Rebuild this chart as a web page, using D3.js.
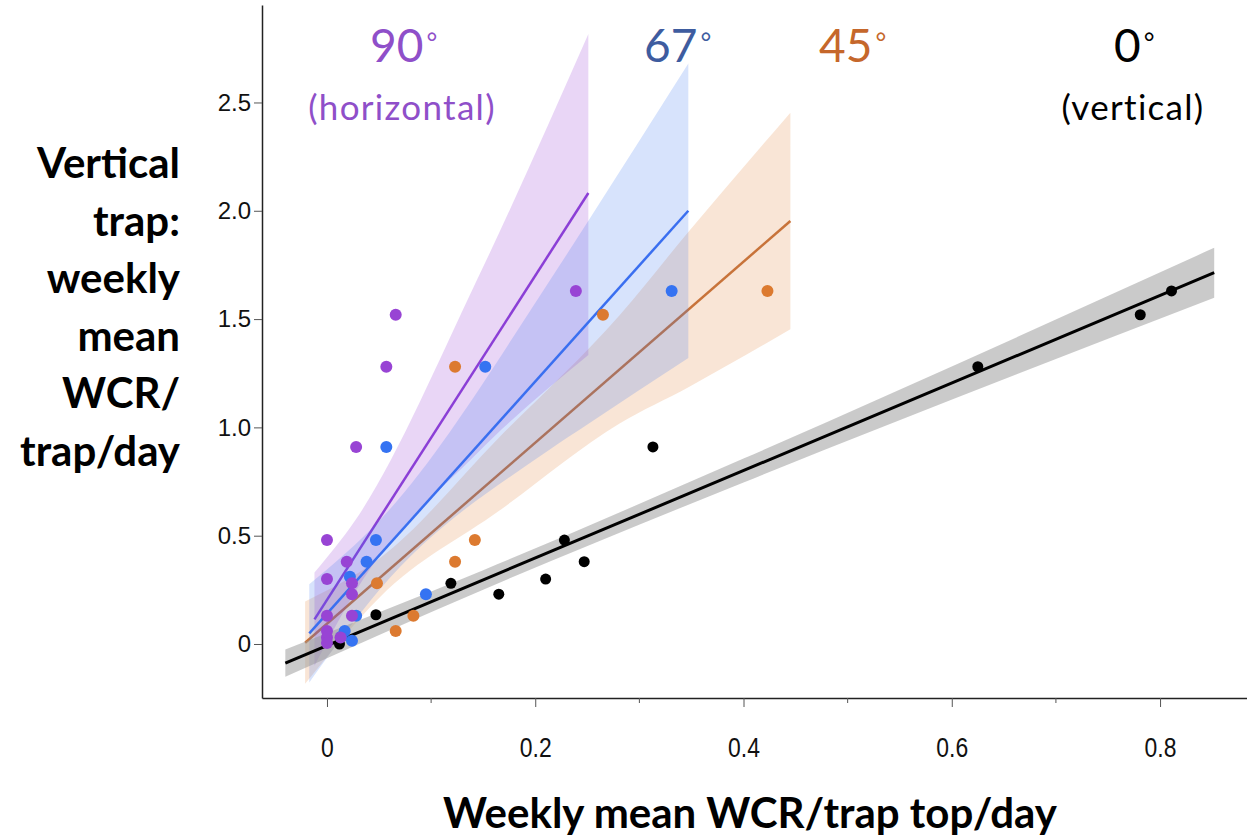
<!DOCTYPE html>
<html>
<head>
<meta charset="utf-8">
<script src="https://cdn.jsdelivr.net/npm/d3@7/dist/d3.min.js"></script>
<style>
  body { margin: 0; background: #fff; }
  svg { display: block; }
</style>
</head>
<body>
<div id="chart"></div>
<script>
// Weekly mean WCR per trap top (x) vs vertical trap (y), one pair per trap angle
const top0X = [0.811, 0.781, 0.625, 0.313, 0.228, 0.247, 0.210, 0.119, 0.165, 0.047, 0.012];
const top0Y = [1.63, 1.52, 1.28, 0.91, 0.48, 0.38, 0.30, 0.28, 0.23, 0.135, 0.0];

const top45X = [0.423, 0.265, 0.123, 0.142, 0.123, 0.048, 0.083, 0.066];
const top45Y = [1.63, 1.52, 1.28, 0.48, 0.38, 0.28, 0.13, 0.06];

const top67X = [0.331, 0.152, 0.057, 0.047, 0.038, 0.022, 0.095, 0.028, 0.017, 0.014, 0.024];
const top67Y = [1.63, 1.28, 0.91, 0.48, 0.38, 0.31, 0.23, 0.13, 0.06, 0.035, 0.015];

const top90X = [0.239, 0.066, 0.057, 0.028, 0.0, 0.019, 0.0, 0.024, 0.024, 0.0, 0.024, 0.0, 0.0, 0.0, 0.013];
const top90Y = [1.63, 1.52, 1.28, 0.91, 0.48, 0.38, 0.30, 0.28, 0.23, 0.13, 0.13, 0.06, 0.03, 0.005, 0.03];

// fitted lines (end points) and confidence bands
const fit0X = [-0.040, 0.852];   const fit0Y = [-0.088, 1.714];
const fit45X = [-0.021, 0.445];  const fit45Y = [0.006, 1.953];
const fit67X = [-0.017, 0.347];  const fit67Y = [0.049, 2.0];
const fit90X = [-0.012, 0.251];  const fit90Y = [0.114, 2.082];

const band0X = [-0.040, 0.15, 0.40, 0.852];
const band0Lo = [-0.151, 0.251, 0.746, 1.599];
const band0Hi = [-0.025, 0.341, 0.856, 1.829];

const band45X = [-0.021, 0.051, 0.166, 0.281, 0.348, 0.445];
const band45Lo = [-0.184, 0.217, 0.617, 1.018, 1.188, 1.453];
const band45Hi = [0.196, 0.397, 0.957, 1.518, 1.908, 2.453];

const band67X = [-0.017, 0.05, 0.214, 0.2515, 0.347];
const band67Lo = [-0.178, 0.248, 0.898, 1.018, 1.32];
const band67Hi = [0.276, 0.568, 1.678, 1.958, 2.68];

const band90X = [-0.012, 0.027, 0.144, 0.251];
const band90Lo = [-0.10, 0.24, 0.88, 1.334];
const band90Hi = [0.33, 0.57, 1.68, 2.816];

const xTicks = [0, 0.2, 0.4, 0.6, 0.8];
const xMinorTicks = [0.1, 0.3, 0.5, 0.7];
const yTicks = [0, 0.5, 1.0, 1.5, 2.0, 2.5];

const angleLabels = ["90", "67", "45", "0"];
const angleNotes = ["(horizontal)", "", "", "(vertical)"];
const yTitleLines = ["Vertical", "trap:", "weekly", "mean", "WCR/", "trap/day"];
const xTitle = "Weekly mean WCR/trap top/day";

const width = 1247, height = 838;

const svg = d3.select("#chart").append("svg")
    .attr("width", width)
    .attr("height", height);

const x = d3.scaleLinear().domain([-0.0624, 0.8835]).range([262, 1247]);
const y = d3.scaleLinear().domain([-0.2493, 2.950]).range([698, 5]);

const series = [
    { xs: top45X, ys: top45Y, fx: fit45X, fy: fit45Y, bx: band45X, lo: band45Lo, hi: band45Hi,
      point: "#dc7a30", line: "#c8733a", band: "#e07b30", bandOpacity: 0.2 },
    { xs: top90X, ys: top90Y, fx: fit90X, fy: fit90Y, bx: band90X, lo: band90Lo, hi: band90Hi,
      point: "#9844d4", line: "#8b3fd6", band: "#9b45d6", bandOpacity: 0.22 },
    { xs: top67X, ys: top67Y, fx: fit67X, fy: fit67Y, bx: band67X, lo: band67Lo, hi: band67Hi,
      point: "#3573f2", line: "#3a6ff0", band: "#3574f0", bandOpacity: 0.2 },
    { xs: top0X, ys: top0Y, fx: fit0X, fy: fit0Y, bx: band0X, lo: band0Lo, hi: band0Hi,
      point: "#000", line: "#000", band: "#9a9a9a", bandOpacity: 0.52 }
];

const area = d3.area()
    .x(d => x(d.x))
    .y0(d => y(d.lo))
    .y1(d => y(d.hi))
    .curve(d3.curveMonotoneX);

const line = d3.line()
    .x(d => x(d[0]))
    .y(d => y(d[1]));

const plot = svg.append("g");

// bands and fitted lines
series.forEach(s => {
    const bandData = s.bx.map((v, i) => ({ x: v, lo: s.lo[i], hi: s.hi[i] }));
    plot.append("path")
        .datum(bandData)
        .attr("d", area)
        .attr("fill", s.band)
        .attr("fill-opacity", s.bandOpacity);

    plot.append("path")
        .datum(s.fx.map((v, i) => [v, s.fy[i]]))
        .attr("d", line)
        .attr("fill", "none")
        .attr("stroke", s.line)
        .attr("stroke-width", s.point === "#000" ? 3 : 2.5);
});

// points: black first, purple on top
[series[3], series[0], series[2], series[1]].forEach(s => {
    plot.append("g")
        .selectAll("circle")
        .data(s.xs.map((v, i) => [v, s.ys[i]]))
        .enter()
        .append("circle")
        .attr("cx", d => x(d[0]))
        .attr("cy", d => y(d[1]))
        .attr("r", s.point === "#000" ? 5.5 : 6)
        .attr("fill", s.point);
});

// Axes
const yAxis = d3.axisLeft(y)
    .tickValues(yTicks)
    .tickFormat(d => d === 0 ? "0" : d3.format(".1f")(d))
    .tickSize(8)
    .tickSizeOuter(0)
    .tickPadding(3);

const xAxis = d3.axisBottom(x)
    .tickValues(xTicks)
    .tickFormat(d => d === 0 ? "0" : d3.format(".1f")(d))
    .tickSize(9)
    .tickSizeOuter(0)
    .tickPadding(31);

const gy = svg.append("g")
    .attr("transform", "translate(262,0)")
    .call(yAxis);

const gx = svg.append("g")
    .attr("transform", "translate(0,698)")
    .call(xAxis);

gx.append("g")
    .selectAll("line")
    .data(xMinorTicks)
    .enter()
    .append("line")
    .attr("x1", d => x(d))
    .attr("x2", d => x(d))
    .attr("y1", 0)
    .attr("y2", 5)
    .attr("stroke", "#555");

[gx, gy].forEach(g => {
    g.select(".domain").attr("stroke", "#222").attr("stroke-width", 1.5);
    g.selectAll(".tick line").attr("stroke", "#555");
    g.selectAll(".tick text")
        .style("font-family", "Liberation Sans, Arial, sans-serif")
        .style("font-size", "24px")
        .attr("fill", "#111");
});

// x tick labels are tall and narrow in the original
gx.selectAll(".tick text")
    .style("font-size", "27px")
    .attr("transform", "scale(0.85,1)");

// angle annotations
const angleX = [370, 644, 819, 1114];
const angleColor = ["#8f4fc9", "#3e5c9f", "#c5672b", "#000"];
const noteX = [402, 0, 0, 1133];

angleLabels.forEach((label, i) => {
    const t = svg.append("text")
        .attr("x", angleX[i])
        .attr("y", 62)
        .style("font-family", "Lato, sans-serif")
        .style("font-size", "46px")
        .attr("fill", angleColor[i])
        .text(label);
    t.append("tspan")
        .attr("dx", 3)
        .attr("dy", -10)
        .style("font-size", "26px")
        .text("°");

    if (angleNotes[i]) {
        svg.append("text")
            .attr("x", noteX[i])
            .attr("y", 120)
            .attr("text-anchor", "middle")
            .style("font-family", "Lato, sans-serif")
            .style("font-size", "35px")
            .style("letter-spacing", "1.3px")
            .attr("fill", angleColor[i])
            .text(angleNotes[i]);
    }
});

// axis titles
svg.append("g")
    .selectAll("text")
    .data(yTitleLines)
    .enter()
    .append("text")
    .attr("x", 180)
    .attr("y", (d, i) => 178 + i * 57.6)
    .attr("text-anchor", "end")
    .style("font-family", "Lato, sans-serif")
    .style("font-weight", "700")
    .style("font-size", "42px")
    .attr("fill", "#000")
    .text(d => d);

svg.append("text")
    .attr("x", 750)
    .attr("y", 828)
    .attr("text-anchor", "middle")
    .style("font-family", "Lato, sans-serif")
    .style("font-weight", "700")
    .style("font-size", "42px")
    .attr("fill", "#000")
    .text(xTitle);
</script>
</body>
</html>
